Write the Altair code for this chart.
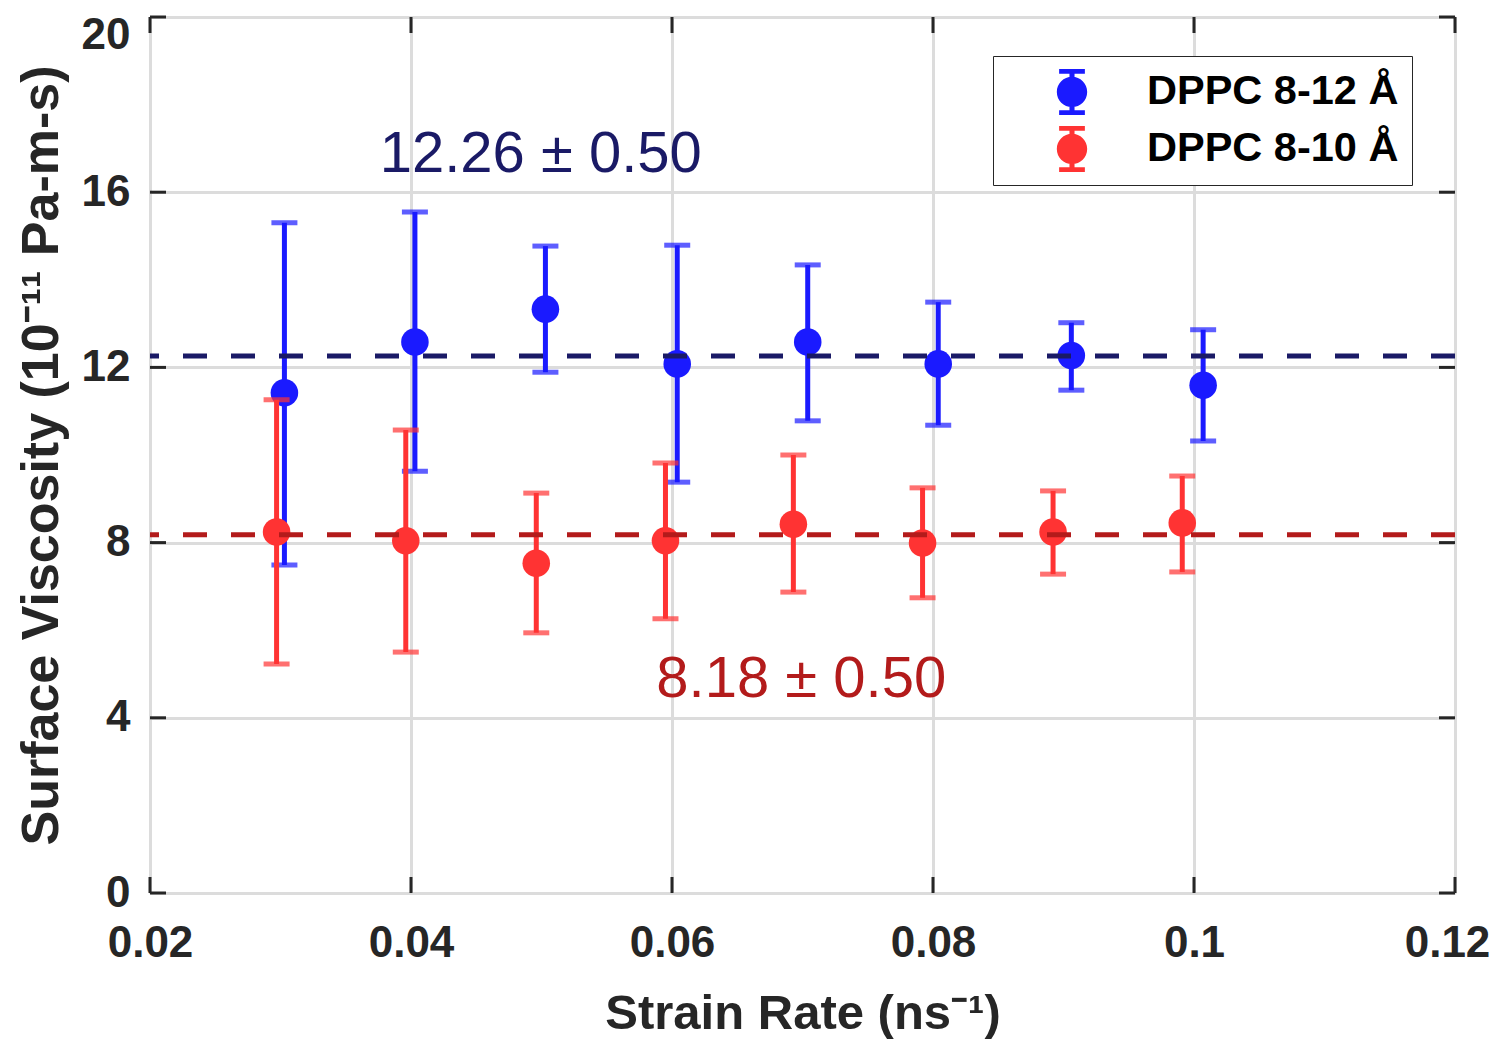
import altair as alt
import pandas as pd

# ---- data ----
series_names = ["DPPC 8-12 Å", "DPPC 8-10 Å"]

blue_x = [0.0303, 0.0403, 0.0503, 0.0604, 0.0704, 0.0804, 0.0906, 0.1007]
blue_y = [11.42, 12.58, 13.33, 12.08, 12.58, 12.08, 12.27, 11.59]
blue_lo = [7.49, 9.63, 11.89, 9.38, 10.78, 10.68, 11.48, 10.32]
blue_hi = [15.30, 15.55, 14.77, 14.79, 14.34, 13.49, 13.02, 12.86]

red_x = [0.0297, 0.0396, 0.0496, 0.0595, 0.0693, 0.0792, 0.0892, 0.0991]
red_y = [8.24, 8.04, 7.53, 8.04, 8.42, 7.99, 8.24, 8.45]
red_lo = [5.23, 5.50, 5.94, 6.26, 6.87, 6.74, 7.28, 7.33]
red_hi = [11.26, 10.57, 9.13, 9.82, 10.00, 9.25, 9.18, 9.52]

mean_values = [12.26, 8.18]
mean_labels = ["12.26 ± 0.50", "8.18 ± 0.50"]
label_x = [0.0376, 0.0588]
label_y = [16.46, 4.47]

x_ticks = [0.02, 0.04, 0.06, 0.08, 0.10, 0.12]
y_ticks = [0, 4, 8, 12, 16, 20]

colors = ["#1a1aff", "#ff3333"]
mean_colors = ["#1a1a66", "#b31b1b"]

W, H = 1305, 876
FONT = "Liberation Sans"
TXT = "#262626"

df = pd.DataFrame({
    "x": blue_x + red_x,
    "y": blue_y + red_y,
    "lo": blue_lo + red_lo,
    "hi": blue_hi + red_hi,
    "series": [series_names[0]] * len(blue_x) + [series_names[1]] * len(red_x),
})
df_b = df[df.series == series_names[0]]
df_r = df[df.series == series_names[1]]

xs = alt.Scale(domain=[0.02, 0.12], nice=False, zero=False)
ys = alt.Scale(domain=[0, 20], nice=False, zero=False)
cs = alt.Scale(domain=series_names, range=colors)

legend_symbol = (
    "M -0.66 0 A 0.66 0.66 0 1 1 0.66 0 A 0.66 0.66 0 1 1 -0.66 0 Z "
    "M -0.11 -1 L 0.11 -1 L 0.11 1 L -0.11 1 Z "
    "M -0.56 -1 L 0.56 -1 L 0.56 -0.79 L -0.56 -0.79 Z "
    "M -0.56 0.79 L 0.56 0.79 L 0.56 1 L -0.56 1 Z"
)

x_axis = alt.Axis(
    values=x_ticks, format="~g", grid=True, gridColor="#dcdcdc", gridWidth=3,
    ticks=False, tickSize=0, domain=False, labelFont=FONT, labelFontSize=44,
    labelFontWeight="bold", labelColor=TXT, labelPadding=28,
    labelOffset=alt.ExprRef("datum.value > 0.11 ? -8 : 0"),
    title="Strain Rate (ns⁻¹)", titleFont=FONT, titleFontSize=49,
    titleFontWeight="bold", titleColor=TXT, titleBaseline="alphabetic",
    titleY=135, labelFlush=False, labelOverlap=False,
)
y_axis = alt.Axis(
    values=y_ticks, format="d", grid=True, gridColor="#dcdcdc", gridWidth=3,
    ticks=False, tickSize=0, domain=False, labelFont=FONT, labelFontSize=44,
    labelFontWeight="bold", labelColor=TXT, labelPadding=20,
    labelOffset=alt.ExprRef("datum.value > 19 ? 18 : 0"),
    title="Surface Viscosity (10⁻¹¹ Pa-m-s)", titleFont=FONT, titleFontSize=52,
    titleFontWeight="bold", titleColor=TXT, titleBaseline="alphabetic",
    titleX=-93, labelFlush=False, labelOverlap=False,
)


def errorbars(d, col):
    c = alt.Chart(d)
    rule = c.mark_rule(strokeWidth=5, color=col).encode(
        x=alt.X("x:Q", scale=xs, axis=x_axis), y=alt.Y("lo:Q", scale=ys, axis=y_axis), y2="hi:Q"
    )
    cap_lo = c.mark_tick(orient="horizontal", size=26, thickness=5, color=col).encode(
        x=alt.X("x:Q", scale=xs), y=alt.Y("lo:Q", scale=ys)
    )
    cap_hi = c.mark_tick(orient="horizontal", size=26, thickness=5, color=col).encode(
        x=alt.X("x:Q", scale=xs), y=alt.Y("hi:Q", scale=ys)
    )
    return rule + cap_lo + cap_hi


def points(d):
    return alt.Chart(d).mark_point(filled=True, size=760, opacity=1, shape="circle").encode(
        x=alt.X("x:Q", scale=xs),
        y=alt.Y("y:Q", scale=ys),
        color=alt.Color(
            "series:N", scale=cs,
            legend=alt.Legend(
                title=None, orient="none", legendX=843, legendY=39,
                strokeColor=TXT, fillColor="#ffffff",
                padding=13, symbolType=legend_symbol, symbolSize=2116,
                symbolStrokeWidth=0, symbolOpacity=1, symbolOffset=43,
                labelOffset=52, rowPadding=11, labelFont=FONT, labelFontSize=41.5,
                labelFontWeight="bold", labelColor="#000000", labelLimit=0,
            ),
        ),
    )


mean_df = pd.DataFrame({"m": mean_values, "c": mean_colors})
means = alt.Chart(mean_df).mark_rule(strokeWidth=5, strokeDash=[24, 24]).encode(
    y=alt.Y("m:Q", scale=ys), color=alt.Color("c:N", scale=None, legend=None)
)

lab_df = pd.DataFrame({"lx": label_x, "ly": label_y, "t": mean_labels, "c": mean_colors})
labels = alt.Chart(lab_df).mark_text(
    font=FONT, fontSize=58, align="left", baseline="alphabetic"
).encode(
    x=alt.X("lx:Q", scale=xs), y=alt.Y("ly:Q", scale=ys), text="t:N",
    color=alt.Color("c:N", scale=None, legend=None),
)

# inside tick marks (MATLAB box style)
xt = pd.DataFrame({"t": x_ticks})
yt = pd.DataFrame({"t": y_ticks})
TL = 16
tk = dict(strokeWidth=3, color=TXT)
ticks_bottom = alt.Chart(xt).mark_rule(**tk).encode(
    x=alt.X("t:Q", scale=xs), y=alt.value(H), y2=alt.value(H - TL))
ticks_top = alt.Chart(xt).mark_rule(**tk).encode(
    x=alt.X("t:Q", scale=xs), y=alt.value(0), y2=alt.value(TL))
ticks_left = alt.Chart(yt).mark_rule(**tk).encode(
    y=alt.Y("t:Q", scale=ys), x=alt.value(0), x2=alt.value(TL))
ticks_right = alt.Chart(yt).mark_rule(**tk).encode(
    y=alt.Y("t:Q", scale=ys), x=alt.value(W - TL), x2=alt.value(W))

chart = alt.layer(
    errorbars(df_b, colors[0]),
    points(df_b),
    errorbars(df_r, colors[1]),
    points(df_r),
    means,
    labels,
    ticks_bottom, ticks_top, ticks_left, ticks_right,
).properties(
    width=W, height=H,
    autosize=alt.AutoSizeParams(type="none"),
    padding={"left": 142, "top": 9, "right": 37, "bottom": 152},
).configure_view(
    stroke=TXT, strokeWidth=3.5
).configure_legend(
    strokeWidth=4, cornerRadius=0
).configure(background="white")

chart.save("out.html", embed_options={"renderer": "svg", "actions": False})
